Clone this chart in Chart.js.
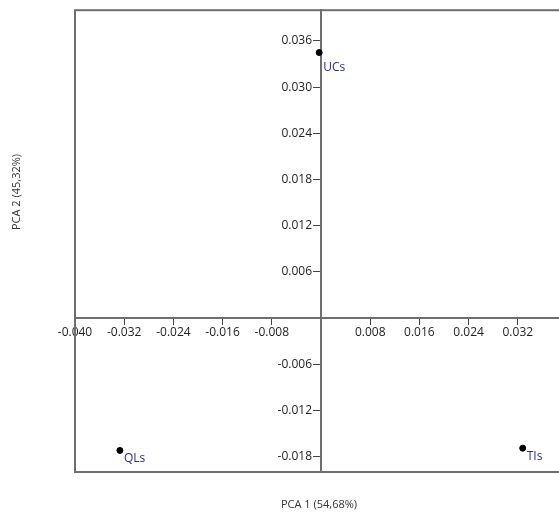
<!DOCTYPE html>
<html>
<head>
<meta charset="utf-8">
<script src="https://cdn.jsdelivr.net/npm/chart.js@4"></script>
<style>
    html, body { margin: 0; padding: 0; background: #fff; }
    #wrap { width: 559px; height: 526px; overflow: hidden; }
    #pca { display: block; }
</style>
</head>
<body>
<div id="wrap"><canvas id="pca" width="572" height="526"></canvas></div>
<script>
// Scores of the three samples on the first two components
const sampleNames = ['UCs', 'QLs', 'TIs'];
const pc1Scores = [-0.0003, -0.0327, 0.0328];
const pc2Scores = [0.0345, -0.0172, -0.0169];

// Tick values shown on each axis (0 is left blank where the axes cross)
const xTickValues = [-0.040, -0.032, -0.024, -0.016, -0.008, 0, 0.008, 0.016, 0.024, 0.032, 0.040];
const yTickValues = [-0.018, -0.012, -0.006, 0, 0.006, 0.012, 0.018, 0.024, 0.030, 0.036];

const xTitle = 'PCA 1 (54,68%)';
const yTitle = 'PCA 2 (45,32%)';

const axisColor = '#6e6e6e';
const labelColor = '#2a2a96';
const tickFont = { family: 'Open Sans', size: 12 };

const fmt = v => v.toFixed(3);

// Frame around the plot (right side runs past the visible page)
const framePlugin = {
    id: 'frame',
    beforeDatasetsDraw(chart) {
        const { ctx, chartArea: a } = chart;
        ctx.save();
        ctx.strokeStyle = axisColor;
        ctx.lineWidth = 2;
        ctx.strokeRect(a.left, a.top, a.right - a.left, a.bottom - a.top);
        ctx.restore();
    }
};

// y tick labels sit left of the centred axis, then point names and axis titles
const labelPlugin = {
    id: 'labels',
    afterDatasetsDraw(chart) {
        const { ctx, scales } = chart;
        const axisX = scales.x.getPixelForValue(0);
        ctx.save();
        ctx.font = '12px "Open Sans"';
        ctx.fillStyle = '#222';
        ctx.textAlign = 'right';
        ctx.textBaseline = 'middle';
        yTickValues.forEach(v => {
            if (v === 0) return;
            ctx.fillText(fmt(v), axisX - 9, scales.y.getPixelForValue(v));
        });

        ctx.fillStyle = labelColor;
        ctx.textAlign = 'left';
        chart.getDatasetMeta(0).data.forEach((pt, i) => {
            const dy = sampleNames[i] === 'UCs' ? 15 : 8;
            ctx.fillText(sampleNames[i], pt.x + 4, pt.y + dy);
        });

        ctx.font = '11px "Open Sans"';
        ctx.fillStyle = '#333';
        ctx.textAlign = 'center';
        ctx.fillText(xTitle, 319, 505);
        ctx.translate(17, 192);
        ctx.rotate(-Math.PI / 2);
        ctx.fillText(yTitle, 0, 0);
        ctx.restore();
    }
};

new Chart(document.getElementById('pca'), {
    type: 'scatter',
    data: {
        datasets: [{
            data: pc1Scores.map((x, i) => ({ x: x, y: pc2Scores[i] })),
            backgroundColor: '#000',
            borderColor: '#000',
            pointRadius: 3
        }]
    },
    options: {
        responsive: false,
        animation: false,
        layout: { padding: { left: 75, top: 10, right: 1, bottom: 54 } },
        plugins: { legend: { display: false }, tooltip: { enabled: false } },
        scales: {
            x: {
                type: 'linear',
                position: { y: 0 },
                min: -0.04,
                max: 0.04,
                afterBuildTicks: s => { s.ticks = xTickValues.map(v => ({ value: v })); },
                ticks: {
                    callback: v => (v === 0 || v === 0.04 ? '' : fmt(v)),
                    color: '#222', font: tickFont, padding: 1, maxRotation: 0, autoSkip: false
                },
                grid: { drawOnChartArea: false, tickLength: 6, tickColor: '#444' },
                border: { color: axisColor, width: 2 }
            },
            y: {
                type: 'linear',
                position: { x: 0 },
                min: -0.02,
                max: 0.04,
                afterBuildTicks: s => { s.ticks = yTickValues.map(v => ({ value: v })); },
                ticks: { callback: () => '', autoSkip: false },
                grid: { drawOnChartArea: false, tickLength: 7, tickColor: '#444' },
                border: { color: axisColor, width: 2 }
            }
        }
    },
    plugins: [framePlugin, labelPlugin]
});
</script>
</body>
</html>
